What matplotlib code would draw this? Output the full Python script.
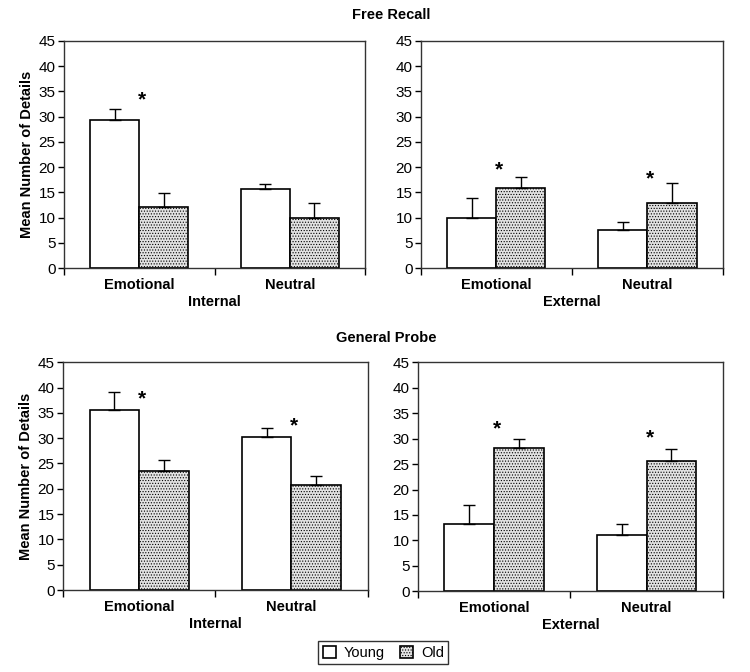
import matplotlib
matplotlib.use("Agg")
import matplotlib.pyplot as plt
import numpy as np

plt.rcParams["font.family"] = ["Liberation Sans", "DejaVu Sans"]
plt.rcParams["hatch.linewidth"] = 0.5
plt.rcParams["hatch.color"] = "#9a9a9a"

categories = ["Emotional", "Neutral"]
groups = ["Young", "Old"]

# Free Recall
fr_int_young = [29.3, 15.7]
fr_int_young_err = [2.2, 1.0]
fr_int_old = [12.2, 9.9]
fr_int_old_err = [2.7, 3.1]
fr_int_stars = [33.4, None]

fr_ext_young = [9.9, 7.5]
fr_ext_young_err = [4.0, 1.6]
fr_ext_old = [15.9, 13.0]
fr_ext_old_err = [2.2, 3.8]
fr_ext_stars = [19.5, 17.7]

# General Probe
gp_int_young = [35.6, 30.2]
gp_int_young_err = [3.5, 1.8]
gp_int_old = [23.6, 20.75]
gp_int_old_err = [2.0, 1.75]
gp_int_stars = [37.7, 32.5]

gp_ext_young = [13.2, 11.1]
gp_ext_young_err = [3.8, 2.1]
gp_ext_old = [28.2, 25.6]
gp_ext_old_err = [1.7, 2.4]
gp_ext_stars = [31.9, 30.1]

panels = [
    ([0.085, 0.601, 0.402, 0.338], fr_int_young, fr_int_young_err, fr_int_old, fr_int_old_err, fr_int_stars, "Internal", True),
    ([0.561, 0.601, 0.403, 0.338], fr_ext_young, fr_ext_young_err, fr_ext_old, fr_ext_old_err, fr_ext_stars, "External", False),
    ([0.084, 0.122, 0.406, 0.339], gp_int_young, gp_int_young_err, gp_int_old, gp_int_old_err, gp_int_stars, "Internal", True),
    ([0.557, 0.120, 0.407, 0.341], gp_ext_young, gp_ext_young_err, gp_ext_old, gp_ext_old_err, gp_ext_stars, "External", False),
]

fig = plt.figure(figsize=(7.5, 6.72), dpi=100)
width = 0.325
x = np.arange(len(categories))
err_kw = dict(ecolor="black", elinewidth=1.0, capsize=4, capthick=1.0)

handles = None
for rect, young, young_err, old, old_err, stars, xlabel, show_ylabel in panels:
    ax = fig.add_axes(rect)
    b1 = ax.bar(x - width / 2, young, width, color="white", edgecolor="black", linewidth=1.2,
                yerr=[[0, 0], young_err], error_kw=err_kw, label=groups[0], zorder=2)
    b2 = ax.bar(x + width / 2, old, width, color="#e2e2e2", edgecolor="black", linewidth=1.2,
                hatch="......", yerr=[[0, 0], old_err], error_kw=err_kw, label=groups[1], zorder=2)
    handles = [b1, b2]
    for xi, s in zip(x, stars):
        if s is not None:
            ax.text(xi + 0.02, s, "*", ha="center", va="center", fontsize=15, fontweight="bold")
    ax.set_xlim(-0.5, 1.5)
    ax.set_ylim(0, 45)
    ax.set_yticks(np.arange(0, 46, 5))
    ax.set_xticks(x)
    ax.set_xticklabels(categories, fontsize=10.5, fontweight="bold")
    ax.set_xticks([-0.5, 0.5, 1.5], minor=True)
    ax.tick_params(axis="x", which="major", length=0, pad=7)
    ax.tick_params(axis="x", which="minor", length=5, width=1, direction="out")
    ax.tick_params(axis="y", length=4, width=1, direction="out", labelsize=11, pad=2)
    ax.set_xlabel(xlabel, fontsize=10.5, fontweight="bold", labelpad=2)
    if show_ylabel:
        ax.set_ylabel("Mean Number of Details", fontsize=10.5, fontweight="bold", labelpad=3)
    for sp in ax.spines.values():
        sp.set_linewidth(1.0)
        sp.set_color("#333333")

fig.text(0.522, 0.977, "Free Recall", ha="center", va="center", fontsize=10.5, fontweight="bold")
fig.text(0.515, 0.497, "General Probe", ha="center", va="center", fontsize=10.5, fontweight="bold")

leg = fig.legend(handles, groups, loc="center", bbox_to_anchor=(0.511, 0.0285), ncol=2,
                 fontsize=10.5, frameon=True, fancybox=False, edgecolor="black",
                 handlelength=0.9, handleheight=0.9, columnspacing=1.1, handletextpad=0.5,
                 borderpad=0.3)
leg.get_frame().set_linewidth(1.0)

fig.savefig("out.png", dpi=100)
